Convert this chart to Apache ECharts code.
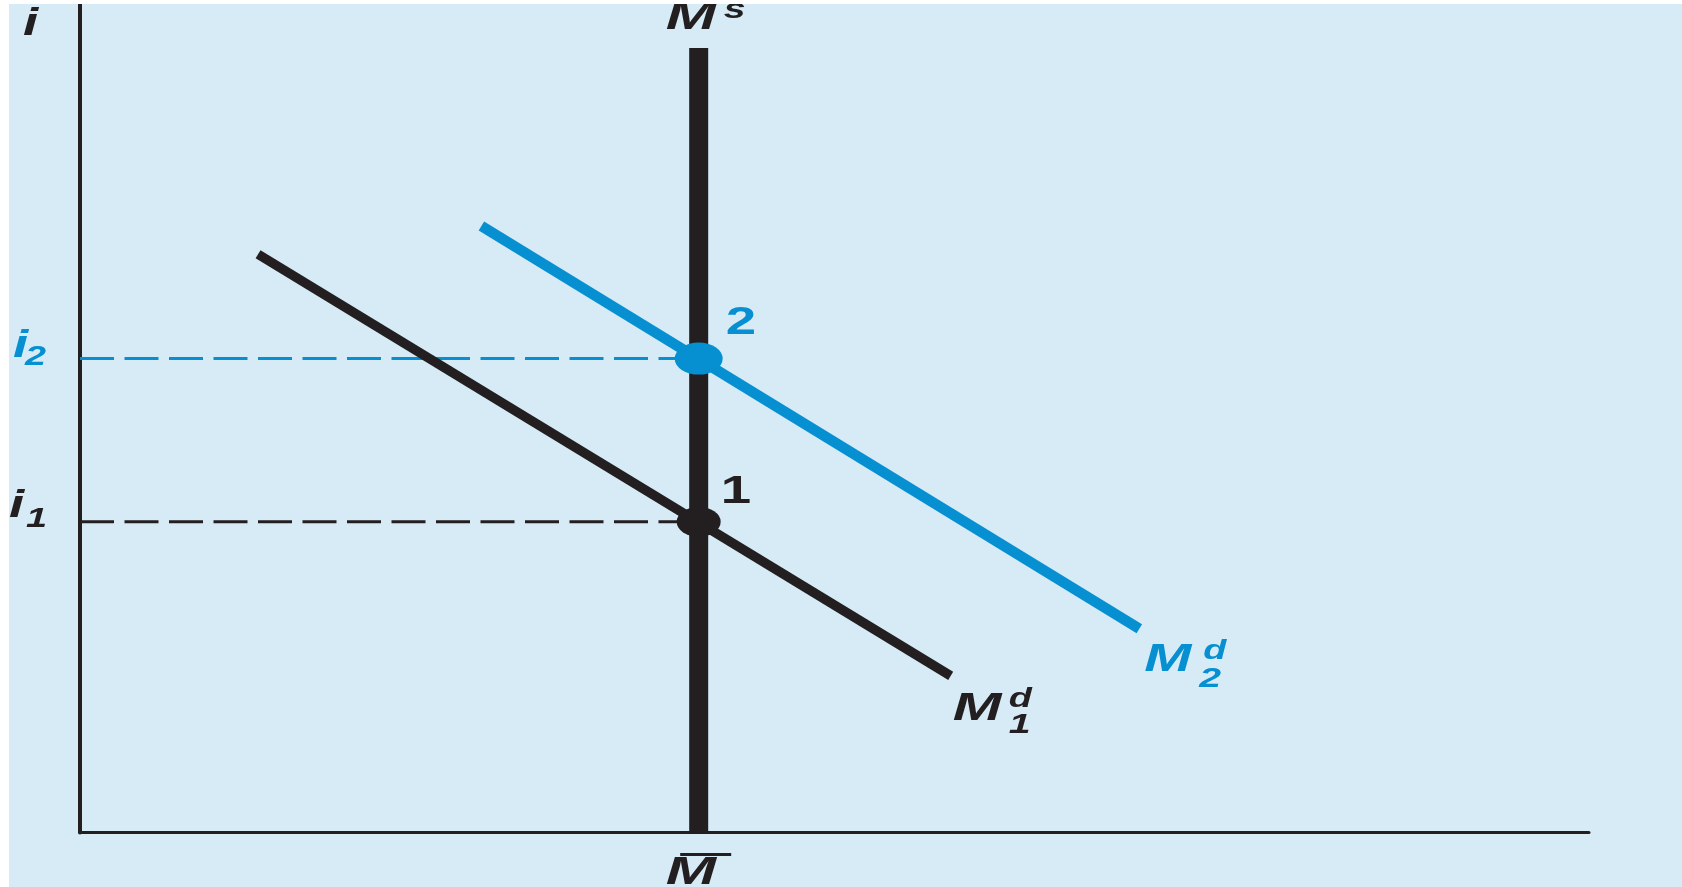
<!DOCTYPE html>
<html>
<head>
<meta charset="utf-8">
<title>Money market: a rise in money demand</title>
<script src="https://cdn.jsdelivr.net/npm/echarts@6/dist/echarts.min.js"></script>
<style>
  html, body { margin: 0; padding: 0; background: #ffffff; width: 1682px; height: 887px; overflow: hidden; }
  #chart { position: absolute; left: 9px; top: 4px; width: 1673px; height: 883px; background: #d6ebf6; }
</style>
</head>
<body>
<div id="chart"></div>
<script>
// Quantity of money (x) against the interest rate (y), both on a 0-100 scale.
const supplyLevel = 41;                  // fixed money supply, M-bar
const supplyTop = 94.7;                  // top end of the vertical M^s line
const demand1 = [[11.8, 69.8], [57.7, 18.9]];   // M^d_1 end points
const demand2 = [[26.6, 73.2], [70.2, 24.6]];   // M^d_2 end points
const rate1 = 37.5;                      // i_1, equilibrium 1
const rate2 = 57.2;                      // i_2, equilibrium 2
const pointLabels = ['1', '2'];

const BLACK = '#231f20';
const BLUE = '#0790d1';
const FONT = '"Liberation Sans", Arial, Helvetica, sans-serif';
const STRETCH = 1.4;

const chart = echarts.init(document.getElementById('chart'), null, { renderer: 'canvas' });

const hiddenAxis = (w) => ({
  type: 'value', min: 0, max: 100,
  axisLine: { show: true, onZero: false, lineStyle: { color: BLACK, width: w } },
  axisTick: { show: false }, axisLabel: { show: false }, splitLine: { show: false }
});

chart.setOption({
  animation: false,
  backgroundColor: 'transparent',
  grid: { left: 71, right: 93, top: 0, bottom: 54.5, containLabel: false },
  xAxis: hiddenAxis(3),
  yAxis: hiddenAxis(4),
  series: [
    { name: 'i1 guide', type: 'line', z: 2, symbol: 'none', silent: true,
      data: [[0, rate1], [supplyLevel, rate1]],
      lineStyle: { color: BLACK, width: 3, type: [34, 10.5] } },
    { name: 'i2 guide', type: 'line', z: 2, symbol: 'none', silent: true,
      data: [[0, rate2], [supplyLevel, rate2]],
      lineStyle: { color: BLUE, width: 3, type: [34, 10.5] } },
    { name: 'Ms', type: 'line', z: 3, symbol: 'none', silent: true, clip: false,
      data: [[supplyLevel, 0], [supplyLevel, supplyTop]],
      lineStyle: { color: BLACK, width: 19, cap: 'butt' } },
    { name: 'Md1', type: 'line', z: 4, symbol: 'none', silent: true,
      data: demand1,
      lineStyle: { color: BLACK, width: 9.5, cap: 'butt' } },
    { name: 'Md2', type: 'line', z: 5, symbol: 'none', silent: true,
      data: demand2,
      lineStyle: { color: BLUE, width: 10.5, cap: 'butt' } },
    { name: 'equilibrium 1', type: 'scatter', z: 6, silent: true,
      data: [[supplyLevel, rate1]], symbol: 'circle', symbolSize: [44, 30],
      itemStyle: { color: BLACK, opacity: 1 } },
    { name: 'equilibrium 2', type: 'scatter', z: 7, silent: true,
      data: [[supplyLevel, rate2]], symbol: 'circle', symbolSize: [48, 32],
      itemStyle: { color: BLUE, opacity: 1 } }
  ]
});

const px = (p) => chart.convertToPixel({ gridIndex: 0 }, p);

function txt(anchor, dx, dy, text, size, color, opts) {
  const o = opts || {};
  return {
    type: 'text', silent: true, z: 100,
    x: anchor[0] + dx, y: anchor[1] + dy,
    scaleX: o.scaleX || STRETCH,
    style: {
      text: text, fontSize: size, fontFamily: FONT,
      fontStyle: o.italic === false ? 'normal' : 'italic',
      fontWeight: o.bold === false ? 'normal' : 'bold',
      fill: color, align: 'left', verticalAlign: 'middle'
    }
  };
}

const axisTop = px([0, 100]);
const i1Pt = px([0, rate1]);
const i2Pt = px([0, rate2]);
const msTop = px([supplyLevel, supplyTop]);
const msBase = px([supplyLevel, 0]);
const md1End = px(demand1[1]);
const md2End = px(demand2[1]);
const eq1 = px([supplyLevel, rate1]);
const eq2 = px([supplyLevel, rate2]);

const wide = { scaleX: 1.55 };

chart.setOption({
  graphic: [
    // axis title
    txt(axisTop, -57, 20, 'i', 39, BLACK),
    // interest-rate levels
    txt(i2Pt, -67, -12.5, 'i', 39, BLUE),
    txt(i2Pt, -55, -1, '2', 27, BLUE),
    txt(i1Pt, -71, -15.5, 'i', 39, BLACK),
    txt(i1Pt, -54, -2.5, '1', 27, BLACK),
    // money supply
    txt(msTop, -33, -30, 'M', 39, BLACK, wide),
    txt(msTop, 25, -37.7, 's', 28, BLACK),
    txt(msBase, -33, 40.5, 'M', 39, BLACK, wide),
    { type: 'line', silent: true, z: 100,
      shape: { x1: msBase[0] - 18.5, y1: msBase[1] + 22, x2: msBase[0] + 32.5, y2: msBase[1] + 22 },
      style: { stroke: BLACK, lineWidth: 3 } },
    // money demand curves
    txt(md2End, 5, 32, 'M', 39, BLUE, { scaleX: 1.45 }),
    txt(md2End, 64, 23, 'd', 27, BLUE),
    txt(md2End, 60, 51, '2', 28, BLUE),
    txt(md1End, 2, 33, 'M', 39, BLACK, { scaleX: 1.5 }),
    txt(md1End, 58, 24, 'd', 27, BLACK),
    txt(md1End, 58, 49, '1', 28, BLACK),
    // equilibrium points
    txt(eq2, 27, -35.5, pointLabels[1], 39, BLUE, { italic: false }),
    txt(eq1, 22, -29.5, pointLabels[0], 39, BLACK, { italic: false })
  ]
});
</script>
</body>
</html>
